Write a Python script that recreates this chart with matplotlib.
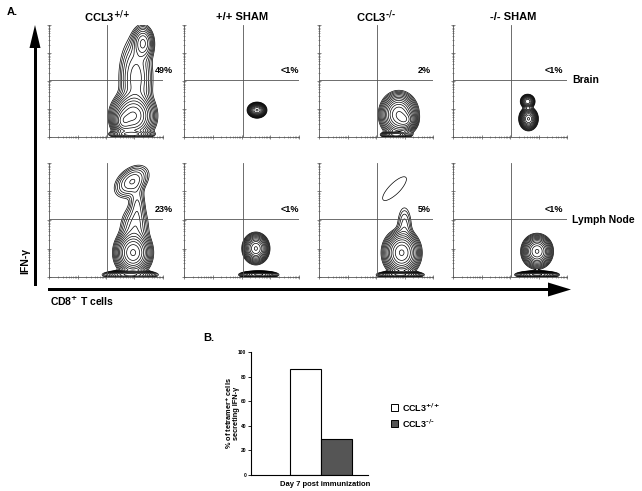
import numpy as np
import matplotlib
matplotlib.use("Agg")
import matplotlib.pyplot as plt
from matplotlib.patches import Polygon, Rectangle

W, H = 642, 491
plt.rcParams['font.family'] = ['Liberation Sans', 'DejaVu Sans']
plt.rcParams['font.weight'] = 'bold'
plt.rcParams['mathtext.default'] = 'bf'

# ---------------- data ----------------
col_titles = ["CCL3$^{\\text{+/+}}$", "+/+ SHAM", "CCL3$^{\\text{-/-}}$", "-/- SHAM"]
row_labels = ["Brain", "Lymph Node"]
pct_top = ["49%", "<1%", "2%", "<1%"]
pct_bottom = ["23%", "<1%", "5%", "<1%"]
gate_x = 2.05
gate_y = 2.05

# density components per panel: (cx, cy, sx, sy, rho, weight) in log-decade units
brain_ccl3_wt = [(2.95, 0.75, 0.30, 0.33, 0.0, 1.0), (2.6, 0.55, 0.15, 0.2, 0.0, 0.5),
                 (3.05, 2.1, 0.28, 0.7, 0.0, 0.15), (3.3, 3.35, 0.17, 0.28, 0.0, 0.25),
                 (2.9, 0.1, 0.3, 0.06, 0.0, 0.5)]
brain_wt_sham = [(2.54, 0.96, 0.12, 0.10, 0.0, 1.0)]
brain_ccl3_ko = [(2.8, 0.8, 0.25, 0.30, 0.0, 1.0), (3.05, 0.6, 0.15, 0.15, 0.0, 0.5),
                 (2.7, 0.08, 0.2, 0.05, 0.0, 0.6)]
brain_ko_sham = [(2.65, 0.65, 0.12, 0.15, 0.0, 1.0), (2.62, 1.27, 0.10, 0.10, 0.0, 0.45)]
ln_ccl3_wt = [(2.95, 0.85, 0.25, 0.30, 0.0, 1.0), (2.85, 0.08, 0.35, 0.06, 0.0, 0.8),
              (3.0, 1.7, 0.25, 0.4, 0.0, 0.10), (3.1, 2.5, 0.15, 0.45, 0.0, 0.06),
              (2.9, 3.35, 0.30, 0.28, 0.4, 0.12)]
ln_wt_sham = [(2.5, 1.0, 0.17, 0.20, 0.0, 1.0), (2.6, 0.08, 0.25, 0.05, 0.0, 0.8)]
ln_ccl3_ko = [(2.9, 0.85, 0.25, 0.30, 0.0, 1.0), (2.85, 0.08, 0.30, 0.05, 0.0, 0.8),
              (3.0, 1.8, 0.15, 0.4, 0.0, 0.05), (2.65, 3.1, 0.55, 0.55, 0.8, 0.02)]
ln_ko_sham = [(2.95, 0.9, 0.20, 0.22, 0.0, 1.0), (2.95, 0.08, 0.28, 0.05, 0.0, 0.8)]
panels = [[brain_ccl3_wt, brain_wt_sham, brain_ccl3_ko, brain_ko_sham],
          [ln_ccl3_wt, ln_wt_sham, ln_ccl3_ko, ln_ko_sham]]

bar_groups = ["CCL3$^{\\text{+/+}}$", "CCL3$^{\\text{-/-}}$"]
bar_values = [86, 29]
bar_colors = ["white", "#555555"]
bar_yticks = [0, 20, 40, 60, 80, 100]

# ---------------- layout ----------------
fig = plt.figure(figsize=(W / 100, H / 100), dpi=100)


def px_rect(x0, y0, x1, y1):
    return [x0 / W, 1 - y1 / H, (x1 - x0) / W, (y1 - y0) / H]


col_x = [(49, 163), (184, 299), (319, 433), (453, 567)]
row_y = [(25, 137), (163, 277)]

g = np.linspace(0, 4, 320)
GX, GY = np.meshgrid(g, g)
levels = np.geomspace(0.015, 0.95, 13)

major = np.arange(0, 5)
minor = [d + np.log10(k) for d in range(4) for k in range(2, 10)]

for r in range(2):
    for c in range(4):
        ax = fig.add_axes(px_rect(col_x[c][0], row_y[r][0], col_x[c][1], row_y[r][1]))
        Z = np.zeros_like(GX)
        for (cx, cy, sx, sy, rho, w) in panels[r][c]:
            dx = (GX - cx) / sx
            dy = (GY - cy) / sy
            q = (dx ** 2 - 2 * rho * dx * dy + dy ** 2) / (1 - rho ** 2)
            Z += w * np.exp(-0.5 * q)
        ax.contour(GX, GY, Z, levels=levels, colors='black', linewidths=0.5)
        ax.axvline(gate_x, color='#555555', lw=0.6)
        ax.axhline(gate_y, color='#555555', lw=0.6)
        ax.set_xlim(0, 4)
        ax.set_ylim(0, 4)
        ax.set_xticks(major)
        ax.set_yticks(major)
        ax.set_xticks(minor, minor=True)
        ax.set_yticks(minor, minor=True)
        ax.set_xticklabels([])
        ax.set_yticklabels([])
        ax.tick_params(which='major', length=2.5, width=0.5, color='#555555', direction='inout')
        ax.tick_params(which='minor', length=1.2, width=0.4, color='#555555', direction='inout')
        for s in ['top', 'right']:
            ax.spines[s].set_visible(False)
        for s in ['left', 'bottom']:
            ax.spines[s].set_color('#555555')
            ax.spines[s].set_linewidth(0.6)

# ---------------- panel B ----------------
axb = fig.add_axes(px_rect(251, 352, 368, 475))
xpos = [0.4625, 0.7275]
for xp, v, col in zip(xpos, bar_values, bar_colors):
    axb.bar(xp, v, width=0.265, color=col, edgecolor='black', linewidth=0.8)
axb.set_xlim(0, 1)
axb.set_ylim(0, 100)
axb.set_xticks([])
axb.set_yticks(bar_yticks)
axb.set_yticklabels([str(t) for t in bar_yticks], fontsize=3.5)
axb.tick_params(axis='y', length=2, width=0.6, pad=1.5)
for s in ['top', 'right']:
    axb.spines[s].set_visible(False)
for s in ['left', 'bottom']:
    axb.spines[s].set_linewidth(0.8)

# ---------------- overlay (arrows, text) ----------------
ov = fig.add_axes([0, 0, 1, 1], zorder=10)
ov.set_xlim(0, W)
ov.set_ylim(H, 0)
ov.axis('off')
ov.patch.set_alpha(0)

# vertical arrow (IFN-gamma)
ov.add_patch(Rectangle((33.5, 46), 3, 240, color='black', lw=0))
ov.add_patch(Polygon([(29.5, 48), (40.5, 48), (35, 25)], closed=True, color='black', lw=0))
# horizontal arrow (CD8)
ov.add_patch(Rectangle((48, 288), 502, 3, color='black', lw=0))
ov.add_patch(Polygon([(548, 282.5), (548, 296.5), (571, 289.5)], closed=True, color='black', lw=0))

ov.text(7, 12, "A.", fontsize=8, fontweight='bold', ha='left', va='center')
ov.text(203, 338, "B.", fontsize=8, fontweight='bold', ha='left', va='center')

title_x = [107, 242, 376, 513]
for tx, t in zip(title_x, col_titles):
    ov.text(tx, 17, t, fontsize=8, fontweight='bold', ha='center', va='center')

pct_right = [173, 299, 431, 563]
for px, t in zip(pct_right, pct_top):
    ov.text(px, 70, t, fontsize=6.5, fontweight='bold', ha='right', va='center')
for px, t in zip(pct_right, pct_bottom):
    ov.text(px, 210, t, fontsize=6.5, fontweight='bold', ha='right', va='center')

ov.text(572, 80, row_labels[0], fontsize=7.5, fontweight='bold', ha='left', va='center')
ov.text(572, 220, row_labels[1], fontsize=7.5, fontweight='bold', ha='left', va='center')

ov.text(25, 261, "IFN-γ", fontsize=7.5, fontweight='bold', rotation=90, ha='center', va='center')
ov.text(50, 301, "CD8$^{\\text{+}}$ T cells", fontsize=7.5, fontweight='bold', ha='left', va='center')

ov.text(232, 413, "% of tetramer$^{\\text{+}}$ cells\nsecreting IFN-γ", fontsize=5.3, fontweight='bold',
        rotation=90, ha='center', va='center', linespacing=1.0)
ov.text(325, 484, "Day 7 post immunization", fontsize=5.5, fontweight='bold', ha='center', va='center')

leg_y = [407.5, 423.5]
for ly, lab, col in zip(leg_y, bar_groups, bar_colors):
    ov.add_patch(Rectangle((391, ly - 3.5), 7, 7, facecolor=col, edgecolor='black', lw=0.7))
    ov.text(402, ly, lab, fontsize=6.5, fontweight='bold', ha='left', va='center')

fig.savefig("out.png", dpi=100)
